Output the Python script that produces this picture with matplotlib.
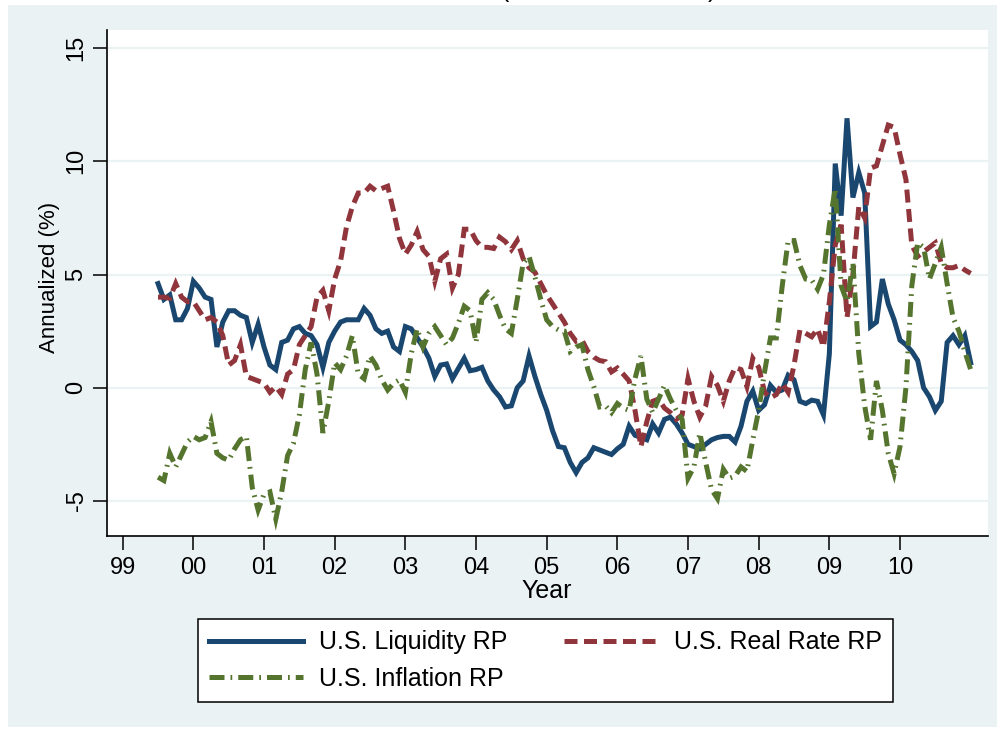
import matplotlib.pyplot as plt
import numpy as np
from matplotlib.patches import Rectangle

# monthly risk premia, July 1999 .. June 2011 (annualized, %)
liquidity_rp = [
    4.6, 3.9, 4.1, 3.0, 3.0, 3.5, 4.7, 4.4, 4.0, 3.9, 1.8, 2.9,
    3.4, 3.4, 3.2, 3.1, 2.0, 2.8, 1.8, 1.0, 0.8, 2.0, 2.1, 2.6,
    2.7, 2.4, 2.3, 1.9, 0.9, 2.0, 2.5, 2.9, 3.0, 3.0, 3.0, 3.5,
    3.2, 2.6, 2.4, 2.5, 1.8, 1.6, 2.7, 2.6, 2.2, 1.8, 1.3, 0.5,
    1.0, 1.05, 0.4, 0.85, 1.3, 0.75, 0.8, 0.9, 0.3, -0.1, -0.4, -0.85,
    -0.8, 0.0, 0.3, 1.4, 0.5, -0.3, -1.0, -1.9, -2.6, -2.65, -3.3, -3.75,
    -3.3, -3.1, -2.65, -2.75, -2.85, -2.95, -2.7, -2.5, -1.7, -2.1, -2.2, -2.3,
    -1.6, -2.0, -1.4, -1.3, -1.6, -2.0, -2.5, -2.6, -2.7, -2.5, -2.3, -2.2,
    -2.15, -2.15, -2.4, -1.7, -0.6, -0.15, -1.0, -0.75, 0.1, -0.2, -0.1, 0.55,
    0.35, -0.6, -0.7, -0.55, -0.6, -1.2, 1.5, 9.9, 7.6, 11.9, 8.4, 9.5,
    8.6, 2.7, 2.9, 4.8, 3.7, 3.0, 2.1, 1.9, 1.6, 1.2, 0.0, -0.4,
    -1.0, -0.6, 2.0, 2.3, 1.9, 2.3, 1.1,
]
real_rate_rp = [
    4.0, 4.0, 3.95, 4.6, 4.0, 3.8, 3.8, 3.4, 3.0, 3.1, 2.9, 2.3,
    1.0, 1.2, 1.9, 0.5, 0.4, 0.3, 0.2, -0.2, 0.05, -0.3, 0.6, 0.8,
    1.9, 2.3, 2.7, 4.0, 4.3, 3.4, 4.8, 5.6, 7.1, 8.0, 8.6, 8.6,
    8.9, 8.7, 8.8, 8.9, 7.8, 6.6, 5.9, 6.3, 6.9, 6.1, 5.8, 4.7,
    5.7, 5.9, 4.4, 5.0, 7.0, 7.0, 6.5, 6.2, 6.2, 6.15, 6.65, 6.45,
    6.1, 6.5, 5.7, 5.3, 5.1, 4.6, 4.1, 3.7, 3.3, 2.9, 2.4, 2.05,
    2.1, 1.6, 1.35, 1.2, 1.15, 0.7, 0.87, 0.6, 0.3, -1.0, -2.6, -1.5,
    -0.6, -0.5, -0.9, -1.1, -1.4, -1.2, 0.4, -0.6, -1.3, -0.8, 0.5, 0.1,
    -0.6, 0.3, 0.9, 0.8, 0.05, 1.3, 0.9, -0.2, -0.45, -0.3, 0.2, -0.2,
    1.0, 2.55, 2.4, 2.25, 2.6, 1.8, 3.8, 6.3, 7.2, 3.1, 5.0, 8.0,
    7.5, 9.7, 9.8, 10.7, 11.6, 11.5, 10.3, 9.2, 6.3, 5.8, 6.0, 6.2,
    6.4, 5.5, 5.3, 5.3, 5.4, 5.2, 5.05,
]
inflation_rp = [
    -3.95, -4.1, -2.9, -3.5, -2.95, -2.4, -2.15, -2.3, -2.2, -1.5, -2.9, -3.1,
    -3.2, -2.7, -2.3, -2.15, -4.4, -5.4, -4.7, -4.6, -5.8, -4.6, -3.0, -2.45,
    -1.2, 0.8, 2.0, 0.6, -2.0, -0.6, 1.1, 0.8, 1.4, 2.3, 0.6, 0.4,
    1.4, 1.0, 0.35, -0.1, 0.2, 0.35, -0.2, 1.5, 2.6, 1.8, 2.4, 2.7,
    2.3, 1.9, 2.2, 2.85, 3.6, 3.4, 2.0, 3.9, 4.2, 3.9, 3.2, 2.6,
    2.4, 3.9, 5.5, 5.8, 4.9, 3.9, 3.0, 2.7, 2.55, 2.5, 1.6, 1.8,
    1.9, 0.8, 0.05, -0.85, -0.8, -1.1, -0.7, -0.9, -1.0, 0.4, 1.4, -0.5,
    -1.1, -0.5, 0.1, -0.5, -1.0, -1.4, -4.0, -3.5, -2.0, -3.3, -4.5, -4.9,
    -3.6, -4.0, -3.9, -3.5, -3.7, -2.3, -1.0, 0.7, 2.2, 2.2, 4.5, 6.5,
    6.5, 5.4, 4.8, 4.76, 4.35, 5.0, 7.2, 8.8, 4.5, 3.8, 5.5, 1.5,
    -0.8, -2.3, 0.3, -1.0, -2.9, -3.8, -2.6, 0.0, 4.5, 6.4, 6.2, 4.8,
    5.5, 6.2, 4.6, 3.1, 2.5, 1.6, 0.8,
]

first_month = 1999.5
year_ticks = list(range(1999, 2011))
year_labels = ["99", "00", "01", "02", "03", "04", "05", "06", "07", "08", "09", "10"]
y_ticks = [-5, 0, 5, 10, 15]

NAVY = "#1A476F"
MAROON = "#90353B"
GREEN = "#55752F"
BG = "#EAF2F3"

plt.rcParams["font.family"] = ["Liberation Sans", "DejaVu Sans"]

t = first_month + np.arange(len(liquidity_rp)) / 12

fig = plt.figure(figsize=(10, 7.31), dpi=100, facecolor="white")
fig.add_artist(Rectangle((0.0075, 1 - 727 / 731), 0.9895, 722 / 731,
                         transform=fig.transFigure, facecolor=BG,
                         edgecolor="none", zorder=-5))

# cut-off subtitle above the graph region
fig.text(0.505, 1 - 2 / 731, "(", ha="center", va="bottom", fontsize=18)
fig.text(0.712, 1 - 2 / 731, ")", ha="center", va="bottom", fontsize=18)

ax = fig.add_axes([0.107, 1 - 536 / 731, 0.881, 506 / 731])
ax.set_facecolor("white")

lw = 3.6
l_liq, = ax.plot(t, liquidity_rp, color=NAVY, lw=lw, solid_joinstyle="miter",
                 label="U.S. Liquidity RP")
l_real, = ax.plot(t, real_rate_rp, color=MAROON, lw=lw, dashes=(2.6, 1.3),
                  dash_joinstyle="miter", dash_capstyle="butt",
                  label="U.S. Real Rate RP")
l_inf, = ax.plot(t, inflation_rp, color=GREEN, lw=lw, dashes=(3.0, 1.2, 0.35, 1.2),
                 dash_joinstyle="miter", dash_capstyle="butt",
                 label="U.S. Inflation RP")

ax.set_xlim(1998.778, 2011.245)
ax.set_ylim(-6.55, 15.8)
ax.set_xticks(year_ticks)
ax.set_xticklabels(year_labels, fontsize=17)
ax.set_yticks(y_ticks)
ax.set_yticklabels([str(v) for v in y_ticks], fontsize=17, rotation=90, va="center")
ax.tick_params(axis="x", length=10, width=1.1, pad=5, colors="black")
ax.tick_params(axis="y", length=10, width=1.1, pad=4, colors="black")

ax.yaxis.grid(True, color=BG, linewidth=1.6)
ax.set_axisbelow(True)
for side in ["top", "right"]:
    ax.spines[side].set_visible(False)
for side in ["left", "bottom"]:
    ax.spines[side].set_linewidth(1.2)
    ax.spines[side].set_color("black")

fig.text(0.050, 1 - 277 / 731, "Annualized (%)", rotation=90,
         ha="center", va="center", fontsize=16)
fig.text(0.547, 1 - 591 / 731, "Year", ha="center", va="center", fontsize=18)

leg = fig.legend([l_liq, l_inf, l_real],
                 ["U.S. Liquidity RP", "U.S. Inflation RP", "U.S. Real Rate RP"],
                 ncol=2, loc="upper left", mode="expand",
                 bbox_to_anchor=(0.198, 0.0, 0.695, 1 - 619 / 731),
                 bbox_transform=fig.transFigure, fontsize=18,
                 handlelength=3.76, handletextpad=0.64, labelspacing=0.5,
                 borderpad=0.45, borderaxespad=0.0, fancybox=False,
                 frameon=True, framealpha=1.0, edgecolor="black",
                 facecolor="white")
leg.get_frame().set_linewidth(1.1)

fig.savefig("out.png", dpi=100, facecolor=fig.get_facecolor())
